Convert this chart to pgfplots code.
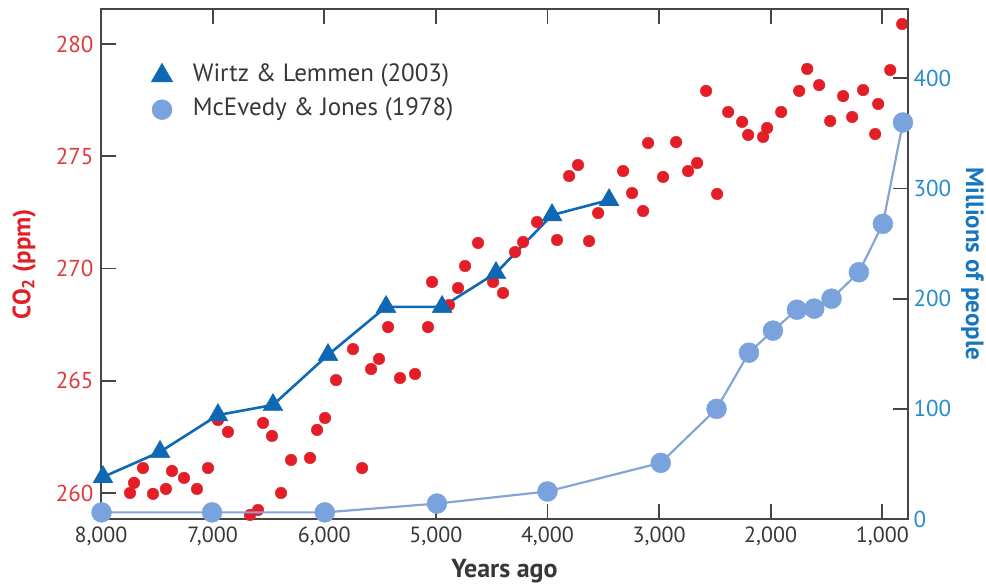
\documentclass[border=0pt]{standalone}
\usepackage{pgfplots}
\pgfplotsset{compat=1.18}
\usepackage{pgfplotstable}
\usepackage{fontspec}
\setmainfont{PT Sans}
\definecolor{co2red}{RGB}{228,30,38}
\definecolor{wblue}{RGB}{14,104,180}
\definecolor{popfill}{RGB}{122,163,221}
\definecolor{popline}{RGB}{134,164,214}
\definecolor{redtick}{RGB}{222,58,62}
\definecolor{bluetick}{RGB}{40,140,200}
\definecolor{bluetitle}{RGB}{22,118,190}
\definecolor{axisgray}{RGB}{70,70,70}
\definecolor{textgray}{RGB}{55,55,55}

\pgfplotstableread{
year co2
7740 260.00
7704 260.45
7624 261.11
7534 259.96
7418 260.18
7364 260.98
7256 260.67
7140 260.18
7041 261.11
6952 263.25
6862 262.72
6665 259.02
6593 259.24
6548 263.12
6468 262.54
6387 260.00
6297 261.47
6127 261.56
6064 262.81
5993 263.34
5894 265.03
5742 266.41
5661 261.11
5580 265.52
5509 265.97
5428 267.39
5321 265.12
5186 265.30
5070 267.39
5034 269.40
4882 268.37
4801 269.13
4738 270.11
4622 271.14
4487 269.40
4398 268.91
4290 270.73
4218 271.18
4093 272.07
3914 271.27
3806 274.12
3726 274.61
3627 271.22
3546 272.47
3322 274.34
3242 273.36
3143 272.56
3098 275.59
2964 274.08
2847 275.63
2740 274.34
2659 274.70
2579 277.91
2480 273.32
2381 276.97
2256 276.53
2202 275.95
2068 275.86
2032 276.26
1906 276.97
1745 277.91
1673 278.89
1566 278.17
1467 276.57
1351 277.68
1270 276.75
1172 277.95
1064 275.99
1037 277.33
929 278.84
822 280.89
}\co

\pgfplotstableread{
year co2
7982 260.71
7471 261.83
6952 263.47
6459 263.92
5966 266.15
5446 268.29
4944 268.29
4461 269.80
3959 272.38
3448 273.05
}\wirtz

\pgfplotstableread{
year pop
7995 6
7005 6
5995 6
4990 14
4000 25
2985 51
2485 100
2195 151
1980 171
1765 190
1610 191
1455 200
1210 224
995 268
815 360
}\mcevedy

\pgfplotsset{
  common/.style={
    at={(0pt,0pt)}, anchor=south west,
    scale only axis, width=807pt, height=510pt,
    x dir=reverse, xmin=770, xmax=8000,
    enlargelimits=false, clip=false,
    tick align=inside, major tick length=15pt,
    tick style={line width=1.8pt, color=axisgray},
    axis line style={-, line width=1.8pt, color=axisgray},
    scaled ticks=false,
    /pgf/number format/assume math mode=true,
    /pgf/number format/1000 sep={,},
  }
}

\begin{document}
\begin{tikzpicture}
\useasboundingbox (-101pt,-65pt) rectangle (885pt,519pt);
\begin{axis}[common,
  ymin=258.84, ymax=281.56,
  xtick={1000,2000,3000,4000,5000,6000,7000,8000},
  xtick pos=both, xticklabel pos=lower,
  ytick={260,265,270,275,280}, ytick pos=left,
  xticklabel style={font=\fontsize{22}{26}\selectfont, text=textgray, yshift=-4pt},
  yticklabel style={font=\fontsize{23}{27}\selectfont, text=redtick, xshift=-4pt},
  xlabel={\textbf{Years ago}},
  xlabel style={at={(axis description cs:0.5,-0.102)}, anchor=center, font=\fontsize{26}{30}\selectfont, text=textgray},
  ylabel={\textbf{CO\textsubscript{2} (ppm)}},
  ylabel style={at={(axis description cs:-0.095,0.5)}, anchor=center, font=\fontsize{25}{30}\selectfont, text=co2red},
]
\addplot[only marks, color=co2red, mark=*, mark size=5.8pt, mark options={draw=co2red, fill=co2red, line width=0.4pt}] table[x=year, y=co2] {\co};
\addplot[line width=2.6pt, color=wblue, mark=triangle*, mark size=11.5pt, mark options={draw=wblue, fill=wblue, line width=0.4pt}] table[x=year, y=co2] {\wirtz};
\end{axis}
\begin{axis}[common,
  axis x line=none, axis y line*=right,
  ymin=0, ymax=463,
  ytick={0,100,200,300,400},
  yticklabel style={font=\fontsize{23}{27}\selectfont, text=bluetick, xshift=2pt},
  ylabel={\textbf{Millions of people}},
  ylabel style={at={(axis description cs:1.08,0.5)}, anchor=center, rotate=180, font=\fontsize{25}{30}\selectfont, text=bluetitle},
  legend style={at={(axis description cs:0,1)}, anchor=north west, xshift=50pt, yshift=-54pt,
    draw=none, fill=none, inner sep=0pt, row sep=10pt, column sep=20pt,
    font=\fontsize{25}{30}\selectfont, text=textgray,
    nodes={inner sep=0pt, text height=18pt, text depth=6pt}},
  legend cell align=left,
  legend image code/.code={\draw[mark repeat=2, mark phase=2, #1] plot coordinates {(0pt,0pt) (14pt,0pt) (28pt,0pt)};},
]
\addlegendimage{only marks, mark=triangle*, mark size=12.5pt, mark options={draw=wblue, fill=wblue, line width=0.4pt}}
\addlegendentry{Wirtz \& Lemmen (2003)}
\addlegendimage{only marks, mark=*, mark size=10pt, mark options={draw=popfill, fill=popfill, line width=0.4pt}}
\addlegendentry{McEvedy \& Jones (1978)}
\addplot[forget plot, line width=2.2pt, color=popline, mark=*, mark size=10pt, mark options={draw=popfill, fill=popfill, line width=0.4pt}] table[x=year, y=pop] {\mcevedy};
\end{axis}
\end{tikzpicture}
\end{document}
